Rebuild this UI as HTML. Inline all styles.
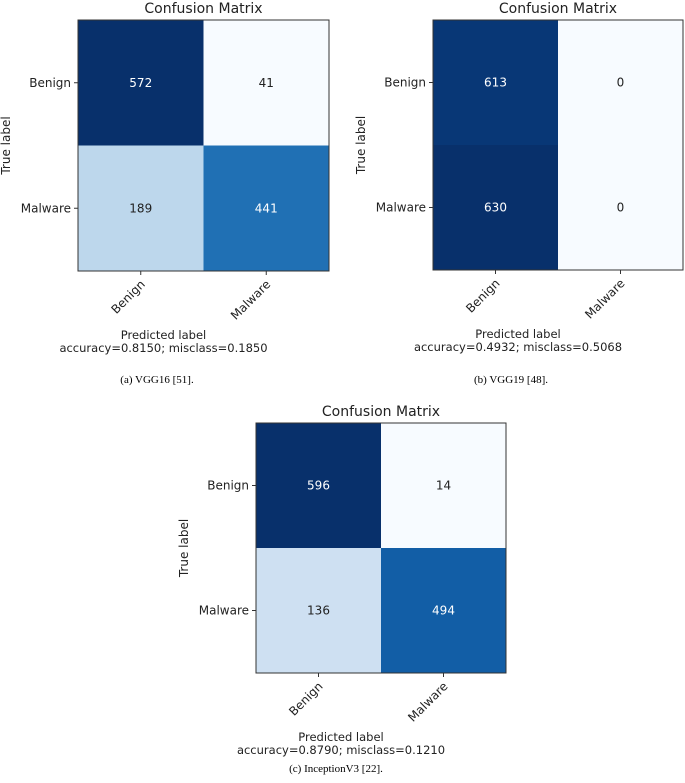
<!DOCTYPE html>
<html><head><meta charset="utf-8"><style>
html,body{margin:0;padding:0;background:#fff;width:685px;height:783px;overflow:hidden}
svg{display:block}
</style></head><body>
<svg id="fig" width="685" height="783" viewBox="0 0 685 783" xmlns="http://www.w3.org/2000/svg"></svg>
<script>
const classLabels = ["Benign", "Malware"];
const vgg16Values = [[572, 41], [189, 441]];
const vgg19Values = [[613, 0], [630, 0]];
const inceptionValues = [[596, 14], [136, 494]];
const accuracyTexts = ["accuracy=0.8150; misclass=0.1850", "accuracy=0.4932; misclass=0.5068", "accuracy=0.8790; misclass=0.1210"];
const captions = ["(a) VGG16 [51].", "(b) VGG19 [48].", "(c) InceptionV3 [22]."];

const NS = "http://www.w3.org/2000/svg";
const svg = document.getElementById("fig");
const stops = ["#f7fbff","#deebf7","#c6dbef","#9ecae1","#6baed6","#4292c6","#2171b5","#08519c","#08306b"];
function hex(h){return [1,3,5].map(i=>parseInt(h.substr(i,2),16));}
function blues(t){
  t=Math.max(0,Math.min(1,t));const p=t*8;const i=Math.min(7,Math.floor(p));const f=p-i;
  const a=hex(stops[i]),b=hex(stops[i+1]);
  return "rgb("+a.map((v,k)=>Math.round(v+(b[k]-v)*f)).join(",")+")";
}
function el(tag, attrs, parent){const e=document.createElementNS(NS,tag);for(const k in attrs)e.setAttribute(k,attrs[k]);(parent||svg).appendChild(e);return e;}
const SANS = '"DejaVu Sans", "Liberation Sans", sans-serif';

function panel(values, x0, y0, size, acc, cap, capCx, capY, idx){
  const g = el("g", {});
  
  
  const flat = values.flat();
  const vmin = Math.min(...flat), vmax = Math.max(...flat);
  const n = classLabels.length, cs = size / n;
  const xs = c => x0 + c * cs, ys = r => y0 + r * cs;
  const t = el("text", {x: x0 + size/2, y: y0 - 7, "text-anchor":"middle", "font-family":SANS, "font-size":"14", fill:"#222"}, g);
  t.textContent = "Confusion Matrix";
  
  
  for (let r=0;r<n;r++) for (let c=0;c<n;c++){
    const v = values[r][c];
    const norm = vmax===vmin ? 0 : (v - vmin)/(vmax - vmin);
    const rc = el("rect", {x: xs(c), y: ys(r), width: cs, height: cs, fill: blues(norm)}, g);
    
    
    const tx = el("text", {x: xs(c)+cs/2, y: ys(r)+cs/2+4, "text-anchor":"middle", "font-family":SANS, "font-size":"12", fill: v > vmax/1.5 ? "#fff" : "#222"}, g);
    tx.textContent = v;
    
    
  }
  el("rect", {x:x0, y:y0, width:size, height:size, fill:"none", stroke:"#333", "stroke-width":"1"}, g);
  for (let i=0;i<n;i++){
    const cy = ys(i)+cs/2;
    el("line",{x1:x0-4,y1:cy,x2:x0,y2:cy,stroke:"#333"},g);
    const yl = el("text",{x:x0-7,y:cy+4,"text-anchor":"end","font-family":SANS,"font-size":"12",fill:"#222"},g);
    yl.textContent = classLabels[i];
    
    
    const cx = xs(i)+cs/2;
    el("line",{x1:cx,y1:y0+size,x2:cx,y2:y0+size+4,stroke:"#333"},g);
    const xl = el("text",{x:cx+5,y:y0+size+14,"text-anchor":"end","font-family":SANS,"font-size":"12",fill:"#222",transform:"rotate(-45 "+(cx+5)+" "+(y0+size+14)+")"},g);
    xl.textContent = classLabels[i];
    
    
  }
  const ylab = el("text",{x:0,y:0,"text-anchor":"middle","font-family":SANS,"font-size":"12",fill:"#222",transform:"translate("+(x0-68)+" "+(y0+size/2)+") rotate(-90)"},g);
  ylab.textContent = "True label";
  
  
  const xlab = el("text",{x:x0+size/2-40,y:y0+size+68,"text-anchor":"middle","font-family":SANS,"font-size":"11.5",fill:"#222"},g);
  xlab.textContent = "Predicted label";
  
  
  const ac = el("text",{x:x0+size/2-40,y:y0+size+81,"text-anchor":"middle","font-family":SANS,"font-size":"11.5",fill:"#222"},g);
  ac.textContent = acc;
  
  
  const cp = el("text",{x:capCx,y:capY,"text-anchor":"middle","font-family":'"Liberation Serif", serif',"font-size":"11",fill:"#000"},g);
  cp.textContent = cap;
  
  
}
panel(vgg16Values, 78, 20, 251, accuracyTexts[0], captions[0], 157, 383, "a");
panel(vgg19Values, 433, 20, 250, accuracyTexts[1], captions[1], 511, 383, "b");
panel(inceptionValues, 256, 423, 250, accuracyTexts[2], captions[2], 336, 772, "c");
</script>
</body></html>
